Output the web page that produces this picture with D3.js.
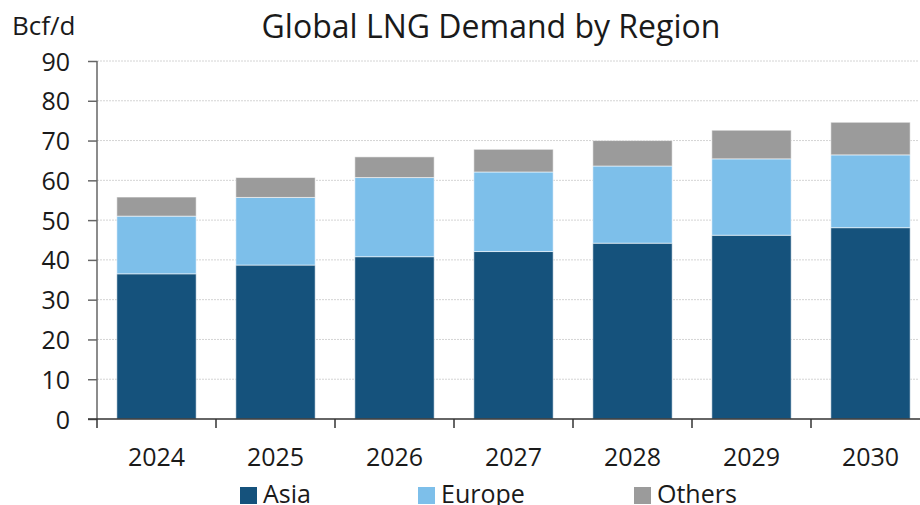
<!DOCTYPE html>
<html>
<head>
<meta charset="utf-8">
<script src="https://cdn.jsdelivr.net/npm/d3@7"></script>
<style>
  body { margin: 0; background: #fff; }
  svg text { font-family: "Open Sans", "Noto Sans", sans-serif; fill: #1a1a1a; }
</style>
</head>
<body>
<svg id="chart" width="920" height="505"></svg>
<script>
// data (Bcf/d)
var years = ['2024', '2025', '2026', '2027', '2028', '2029', '2030'];
var asia = [36.5, 38.7, 40.8, 42.1, 44.2, 46.2, 48.1];
var europe = [14.5, 17.0, 19.9, 20.0, 19.4, 19.2, 18.3];
var others = [4.8, 5.0, 5.2, 5.7, 6.4, 7.2, 8.2];
var seriesNames = ['Asia', 'Europe', 'Others'];
var colors = ['#15527c', '#7dbfea', '#9b9b9b'];
var yTicks = [0, 10, 20, 30, 40, 50, 60, 70, 80, 90];

var rows = years.map(function (y, i) {
  return { year: y, Asia: asia[i], Europe: europe[i], Others: others[i] };
});

var svg = d3.select('#chart');
var plotLeft = 97, plotRight = 930, plotTop = 61, plotBottom = 419;

var x = d3.scaleBand().domain(years).range([plotLeft, plotRight])
  .paddingInner(1 / 3).paddingOuter(1 / 6);
var y = d3.scaleLinear().domain([0, 90]).range([plotBottom, plotTop]);

// gridlines
svg.append('g')
  .selectAll('line')
  .data(yTicks.filter(function (d) { return d > 0; }))
  .enter().append('line')
  .attr('x1', plotLeft).attr('x2', 918)
  .attr('y1', function (d) { return y(d); })
  .attr('y2', function (d) { return y(d); })
  .attr('stroke', '#d4d4d4')
  .attr('stroke-dasharray', '2,1');

// stacked bars
var stack = d3.stack().keys(seriesNames)(rows);
svg.append('g')
  .selectAll('g')
  .data(stack)
  .enter().append('g')
  .attr('fill', function (d, i) { return colors[i]; })
  .selectAll('rect')
  .data(function (d) { return d; })
  .enter().append('rect')
  .attr('x', function (d) { return x(d.data.year); })
  .attr('width', x.bandwidth())
  .attr('y', function (d) { return y(d[1]); })
  .attr('height', function (d) { return y(d[0]) - y(d[1]); })
  .attr('stroke', '#ffffff')
  .attr('stroke-opacity', 0.55)
  .attr('stroke-width', 1);

// y axis
var yAxis = d3.axisLeft(y).tickValues(yTicks).tickSize(9).tickPadding(18);
var gy = svg.append('g').attr('transform', 'translate(' + plotLeft + ',0)').call(yAxis);
gy.select('.domain').attr('stroke', '#666').attr('stroke-width', 1.5).attr('d', 'M0,' + plotTop + 'V' + plotBottom);
gy.selectAll('.tick line').attr('stroke', '#666').attr('stroke-width', 1.5);
gy.selectAll('.tick text').style('font-size', '25px').attr('fill', '#1a1a1a').attr('dy', '0.36em');

// x axis with ticks at band edges
var gx = svg.append('g');
gx.append('line')
  .attr('x1', plotLeft - 9).attr('x2', 920)
  .attr('y1', plotBottom).attr('y2', plotBottom)
  .attr('stroke', '#333').attr('stroke-width', 1.5);
gx.selectAll('.xtick')
  .data(years)
  .enter().append('line')
  .attr('class', 'xtick')
  .attr('x1', function (d) { return x(d) - x.step() * x.paddingInner() / 2; })
  .attr('x2', function (d) { return x(d) - x.step() * x.paddingInner() / 2; })
  .attr('y1', plotBottom).attr('y2', plotBottom + 9)
  .attr('stroke', '#333').attr('stroke-width', 1.5);
gx.selectAll('.xlabel')
  .data(years)
  .enter().append('text')
  .attr('class', 'xlabel')
  .attr('x', function (d) { return x(d) + x.bandwidth() / 2; })
  .attr('y', 466)
  .attr('text-anchor', 'middle')
  .style('font-size', '25px')
  .text(function (d) { return d; });

// title and unit
svg.append('text')
  .attr('x', 491).attr('y', 38)
  .attr('text-anchor', 'middle')
  .style('font-size', '32px')
  .text('Global LNG Demand by Region');
svg.append('text')
  .attr('x', 12).attr('y', 35)
  .style('font-size', '26px')
  .text('Bcf/d');

// legend
var legendX = [240, 418, 634];
var legend = svg.append('g')
  .selectAll('g')
  .data(seriesNames)
  .enter().append('g')
  .attr('transform', function (d, i) { return 'translate(' + legendX[i] + ',487)'; });
legend.append('rect')
  .attr('width', 17).attr('height', 17)
  .attr('fill', function (d, i) { return colors[i]; });
legend.append('text')
  .attr('x', 23).attr('y', 16)
  .style('font-size', '25px')
  .text(function (d) { return d; });
</script>
</body>
</html>
